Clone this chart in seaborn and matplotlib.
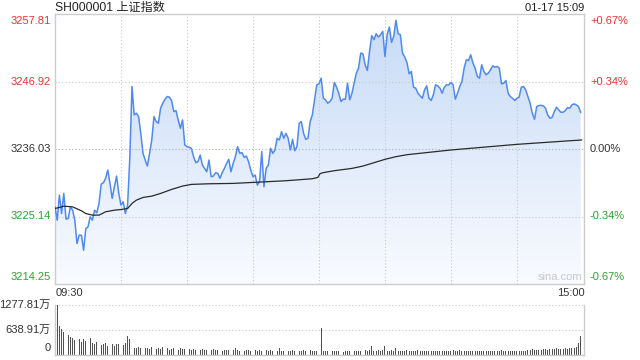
import numpy as np
import pandas as pd
import matplotlib
matplotlib.use("Agg")
import matplotlib.pyplot as plt
import seaborn as sns
from matplotlib.colors import LinearSegmentedColormap

# ---------------- data ----------------
prev_close = 3236.03
y_ticks = [3257.81, 3246.92, 3236.03, 3225.14, 3214.25]
pct_ticks = ["+0.67%", "+0.34%", "0.00%", "-0.34%", "-0.67%"]
vol_ticks = ["1277.81万", "638.91万", "0"]
vol_tick_vals = [1277.81, 638.91, 0]
title = "SH000001 上证指数"
stamp = "01-17 15:09"
time_labels = ["09:30", "15:00"]

price = [
    3226.70, 3224.55, 3228.59, 3225.62, 3228.86, 3224.71, 3224.82, 3226.70, 3226.16, 3224.55,
    3220.77, 3222.12, 3222.12, 3219.70, 3223.20, 3223.47, 3225.09, 3224.55, 3226.16, 3225.73,
    3227.24, 3230.37, 3230.58, 3231.29, 3232.63, 3230.48, 3228.05, 3229.94, 3231.66, 3228.86,
    3226.97, 3227.51, 3225.62, 3226.97, 3234.50, 3246.11, 3241.53, 3241.80, 3241.26, 3238.56,
    3235.33, 3234.25, 3233.28, 3235.33, 3237.49, 3241.26, 3240.45, 3240.18, 3242.61, 3243.42,
    3244.06, 3244.49, 3244.39, 3243.85, 3242.07, 3242.23, 3240.72, 3239.37, 3240.72, 3236.68,
    3236.41, 3236.30, 3236.14, 3234.79, 3233.82, 3233.98, 3235.06, 3233.44, 3232.90, 3232.36,
    3234.25, 3231.56, 3231.66, 3232.20, 3232.10, 3231.29, 3232.20, 3232.90, 3233.71, 3234.36,
    3232.36, 3233.71, 3234.79, 3236.41, 3235.33, 3235.44, 3234.68, 3234.90, 3233.98, 3232.63,
    3231.56, 3231.83, 3230.21, 3230.75, 3235.60, 3229.94, 3232.90, 3233.44, 3236.14, 3235.33,
    3235.87, 3237.76, 3237.49, 3238.83, 3237.76, 3238.56, 3237.76, 3235.87, 3237.59, 3235.76,
    3236.41, 3240.18, 3240.45, 3238.56, 3237.59, 3237.76, 3240.45, 3241.53, 3243.96, 3246.38,
    3246.54, 3247.46, 3244.22, 3243.96, 3243.42, 3243.69, 3244.22, 3246.76, 3246.00, 3245.03,
    3243.69, 3244.06, 3244.06, 3246.65, 3243.96, 3245.03, 3246.65, 3248.27, 3249.08, 3251.50,
    3251.39, 3249.62, 3248.70, 3251.77, 3254.31, 3253.66, 3254.63, 3254.09, 3254.47, 3255.01,
    3250.96, 3254.47, 3255.71, 3253.23, 3254.20, 3256.79, 3254.63, 3254.47, 3251.50, 3250.86,
    3250.00, 3248.16, 3248.54, 3246.00, 3245.84, 3245.03, 3244.60, 3244.22, 3245.57, 3246.22,
    3244.22, 3243.85, 3244.76, 3246.38, 3246.22, 3245.84, 3245.03, 3246.00, 3246.38, 3246.38,
    3246.76, 3246.38, 3244.06, 3245.03, 3246.11, 3246.92, 3249.08, 3250.42, 3250.31, 3251.23,
    3249.89, 3249.08, 3247.73, 3247.46, 3249.62, 3248.54, 3248.00, 3248.27, 3248.81, 3249.45,
    3249.24, 3249.35, 3249.08, 3246.54, 3246.65, 3247.08, 3245.03, 3244.49, 3244.22, 3243.85,
    3244.22, 3244.39, 3246.00, 3246.11, 3245.57, 3244.49, 3243.42, 3241.80, 3240.83, 3242.88,
    3243.04, 3243.09, 3242.98, 3242.61, 3241.53, 3240.99, 3241.15, 3242.07, 3242.77, 3242.34,
    3241.96, 3241.96, 3242.23, 3242.71, 3242.61, 3243.15, 3243.31, 3243.15, 3242.88, 3241.91,
]
minutes = list(range(len(price)))

avg_minutes = [0, 2, 4, 8, 12, 14, 17, 20, 23, 27, 30, 33, 35, 37, 40, 44, 48, 53, 58, 62,
               70, 81, 90, 105, 117, 119.5, 120.5, 122, 127, 135, 140, 145, 150, 155, 160,
               180, 210, 239.5]
avg_price = [3226.43, 3226.60, 3226.81, 3226.70, 3226.06, 3225.62, 3225.36, 3225.36, 3225.90,
             3226.16, 3226.27, 3226.43, 3227.24, 3227.78, 3228.21, 3228.43, 3228.86, 3229.51,
             3230.05, 3230.32, 3230.42, 3230.48, 3230.64, 3230.91, 3231.23, 3231.45, 3232.05,
             3232.22, 3232.53, 3232.90, 3233.28, 3233.82, 3234.36, 3234.79, 3235.11, 3235.87,
             3236.78, 3237.49]

volume = [
    383, 1278, 741, 656, 596, 639, 511, 469, 426, 383,
    366, 400, 341, 400, 366, 281, 426, 298, 281, 341,
    315, 256, 281, 298, 230, 256, 281, 230, 281, 281,
    230, 256, 298, 486, 400, 256, 170, 170, 196, 170,
    213, 190, 170, 150, 213, 170, 145, 190, 160, 200,
    150, 170, 140, 160, 190, 150, 140, 170, 145, 160,
    140, 150, 128, 160, 135, 145, 125, 150, 130, 140,
    125, 135, 150, 120, 130, 140, 115, 128, 120, 135,
    110, 125, 170, 120, 115, 130, 110, 120, 140, 115,
    105, 120, 110, 128, 100, 115, 125, 105, 118, 110,
    100, 115, 170, 110, 105, 120, 100, 112, 125, 108,
    100, 115, 105, 120, 95, 110, 118, 100, 108, 115,
    120, 682, 110, 95, 100, 115, 90, 105, 110, 95,
    100, 88, 105, 95, 110, 90, 100, 115, 95, 105,
    110, 120, 100, 130, 230, 115, 105, 125, 110, 120,
    230, 110, 100, 120, 105, 170, 110, 95, 115, 100,
    120, 105, 95, 110, 100, 125, 90, 105, 115, 95,
    100, 110, 95, 90, 105, 100, 115, 95, 100, 110,
    95, 120, 105, 100, 130, 110, 95, 115, 105, 100,
    110, 95, 90, 105, 100, 95, 110, 100, 105, 95,
    100, 110, 95, 120, 105, 100, 115, 95, 110, 105,
    100, 115, 105, 110, 100, 120, 135, 150, 140, 125,
    130, 120, 145, 155, 135, 150, 160, 145, 170, 155,
    165, 150, 175, 160, 180, 190, 170, 210, 298, 486,
]
vol_minutes = list(range(len(volume)))

# ---------------- style ----------------
sns.set_style("white")
FONT = ["Liberation Sans", "Noto Sans CJK SC", "DejaVu Sans"]
plt.rcParams["font.family"] = FONT

RED = "#f03030"
GREEN = "#2ca52c"
BLACK = "#333333"
GRID = "#c8c8c8"
BORDER = "#cccccc"
LINE = "#4f8af0"

W, H = 640, 360
fig = plt.figure(figsize=(6.4, 3.6), dpi=100)

def fx(px):
    return px / W

def fy(py):
    return 1 - py / H

ax = fig.add_axes([fx(55), fy(284), fx(529), 270 / H])
vax = fig.add_axes([fx(55), fy(355), fx(529), 50 / H])

ylo, yhi = y_ticks[-1], y_ticks[0]
XMAX = 240.5

# gradient fill under the price line
poly = ax.fill_between(minutes, price, ylo, facecolor="none", edgecolor="none")
cmap = LinearSegmentedColormap.from_list("g", ["#f9fbff", "#c6daf7"])
grad = np.linspace(0, 1, 256).reshape(-1, 1)
im = ax.imshow(grad, extent=[0, XMAX, ylo, yhi], origin="lower", aspect="auto",
               cmap=cmap, zorder=1)
im.set_clip_path(poly.get_paths()[0], transform=ax.transData)

df = pd.DataFrame({"minute": minutes, "price": price})
adf = pd.DataFrame({"minute": avg_minutes, "avg": avg_price})
sns.lineplot(data=df, x="minute", y="price", ax=ax, color=LINE, linewidth=1.1, zorder=3)
sns.lineplot(data=adf, x="minute", y="avg", ax=ax, color="#2a2a2a", linewidth=0.9, zorder=4)

ax.set_xlim(0, XMAX)
ax.set_ylim(ylo, yhi)
ax.set_xticks([])
ax.set_yticks([])
ax.set_xlabel("")
ax.set_ylabel("")
for sp in ax.spines.values():
    sp.set_color(BORDER)
    sp.set_linewidth(1)
for yv in y_ticks[1:4]:
    ax.axhline(yv, color=GRID if yv != prev_close else "#b0b0b0", lw=0.8,
               ls=(0, (1, 2)), zorder=2)
for xv in range(30, 240, 30):
    ax.axvline(xv, color=GRID, lw=0.8, ls=(0, (1, 2)), zorder=2)

ax.text(0.996, 0.026, "sina.com", transform=ax.transAxes, ha="right", va="center",
        fontsize=8, color="#c8c8c8", zorder=5)

# volume
vdf = pd.DataFrame({"minute": vol_minutes, "vol": volume})
sns.barplot(data=vdf, x="minute", y="vol", ax=vax, native_scale=True, color="#505050",
            width=0.4, linewidth=0, errorbar=None, saturation=1)
vax.set_xlim(0, XMAX)
vax.set_ylim(0, 1277.81)
vax.set_xticks([])
vax.set_yticks([])
vax.set_xlabel("")
vax.set_ylabel("")
vax.spines["top"].set_visible(False)
for s in ["left", "right", "bottom"]:
    vax.spines[s].set_color(BORDER)
    vax.spines[s].set_linewidth(1)
for yv in vol_tick_vals[:2]:
    vax.axhline(yv, color=GRID, lw=0.8, ls=(0, (1, 2)), zorder=0, clip_on=False)

# ---------------- texts ----------------
FS = 8
label_y = [21, 82, 149, 216, 277]
label_col = [RED, RED, BLACK, GREEN, GREEN]
for v, py, c, pct in zip(y_ticks, label_y, label_col, pct_ticks):
    fig.text(fx(50.5), fy(py), f"{v:.2f}", ha="right", va="center", fontsize=FS, color=c)
    fig.text(fx(590), fy(py), pct, ha="left", va="center", fontsize=FS, color=c)

for lab, py in zip(vol_ticks, [305, 330, 348]):
    fig.text(fx(50.5), fy(py), lab, ha="right", va="center", fontsize=FS, color=BLACK)

fig.text(fx(56), fy(293), time_labels[0], ha="left", va="center", fontsize=FS, color=BLACK)
fig.text(fx(585), fy(293), time_labels[1], ha="right", va="center", fontsize=FS, color=BLACK)

fig.text(fx(55), fy(8), title, ha="left", va="center", fontsize=8.7, color="#222222")
fig.text(fx(584), fy(8), stamp, ha="right", va="center", fontsize=FS, color="#222222")

fig.savefig("out.png", dpi=100)
